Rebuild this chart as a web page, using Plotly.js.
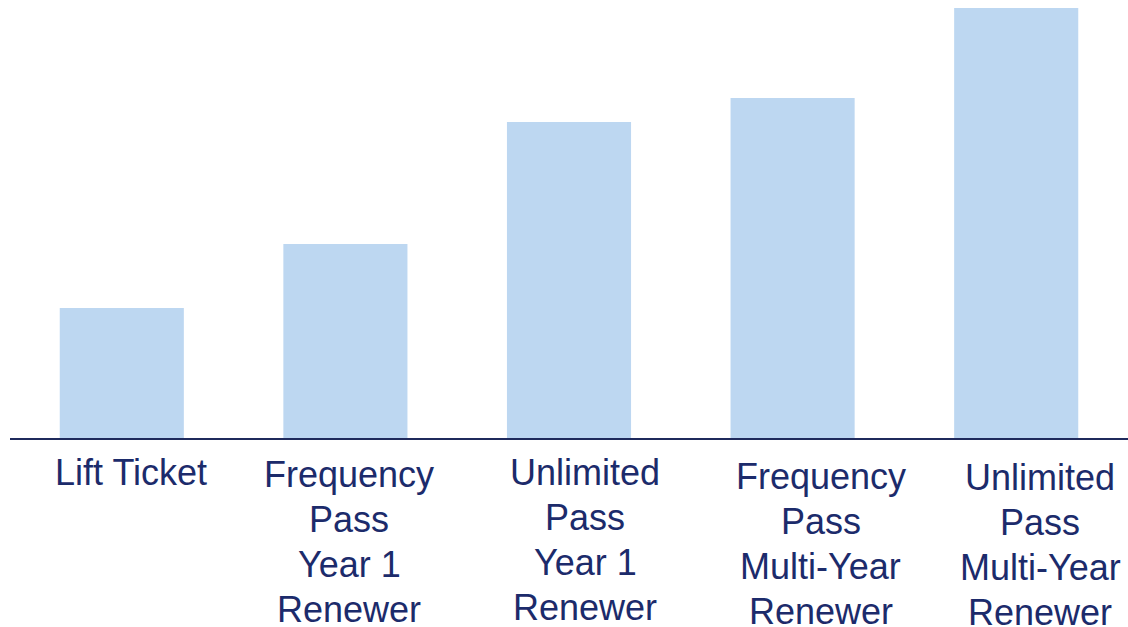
<!DOCTYPE html>
<html>
<head>
<meta charset="utf-8">
<script src="https://cdn.plot.ly/plotly-3.0.1.min.js"></script>
<style>
  html, body { margin: 0; padding: 0; background: #ffffff; }
  #chart { width: 1128px; height: 627px; }
</style>
</head>
<body>
<div id="chart"></div>
<script>
// Product tiers, left to right (line breaks mark how each caption wraps)
const categories = [
  "Lift Ticket",
  "Frequency<br>Pass<br>Year 1<br>Renewer",
  "Unlimited<br>Pass<br>Year 1<br>Renewer",
  "Frequency<br>Pass<br>Multi-Year<br>Renewer",
  "Unlimited<br>Pass<br>Multi-Year<br>Renewer"
];

// Relative value per guest for each tier
const values = [130, 194, 316, 340, 430];

const navy = "#1c2b6b";
const barColor = "#bdd7f1";
const labelFont = { family: "Arial, 'Liberation Sans', sans-serif", size: 36, color: navy };

// Caption placement: horizontal nudge, drop of the first line below the axis, line pitch
const labelDx = [9, 4, 16, 28, 24];
const labelDrop = [34.5, 36.5, 34, 38.5, 39];
const lineGap = 45;

const idx = categories.map((_, i) => i);

const trace = {
  type: "bar",
  x: idx,
  y: values,
  marker: { color: barColor, line: { width: 0 } },
  hoverinfo: "skip"
};

// One annotation per caption line keeps the line pitch tight
const annotations = [];
categories.forEach((c, i) => {
  c.split("<br>").forEach((line, j) => {
    annotations.push({
      x: i,
      y: 0,
      xref: "x",
      yref: "y",
      text: line,
      showarrow: false,
      xanchor: "center",
      yanchor: "middle",
      xshift: labelDx[i],
      yshift: -(labelDrop[i] + j * lineGap),
      font: labelFont
    });
  });
});

const layout = {
  width: 1128,
  height: 627,
  margin: { l: 10, r: 0, t: 8, b: 189, pad: 0 },
  paper_bgcolor: "#ffffff",
  plot_bgcolor: "#ffffff",
  showlegend: false,
  bargap: 0.445,
  xaxis: {
    range: [-0.5, 4.5],
    showticklabels: false,
    showgrid: false,
    zeroline: false,
    ticks: "",
    showline: true,
    linecolor: "#1f2a5c",
    linewidth: 2,
    fixedrange: true
  },
  yaxis: {
    range: [0, 430],
    showticklabels: false,
    showgrid: false,
    zeroline: false,
    ticks: "",
    showline: false,
    fixedrange: true
  },
  annotations: annotations
};

Plotly.newPlot("chart", [trace], layout, { displayModeBar: false, staticPlot: true });
</script>
</body>
</html>
